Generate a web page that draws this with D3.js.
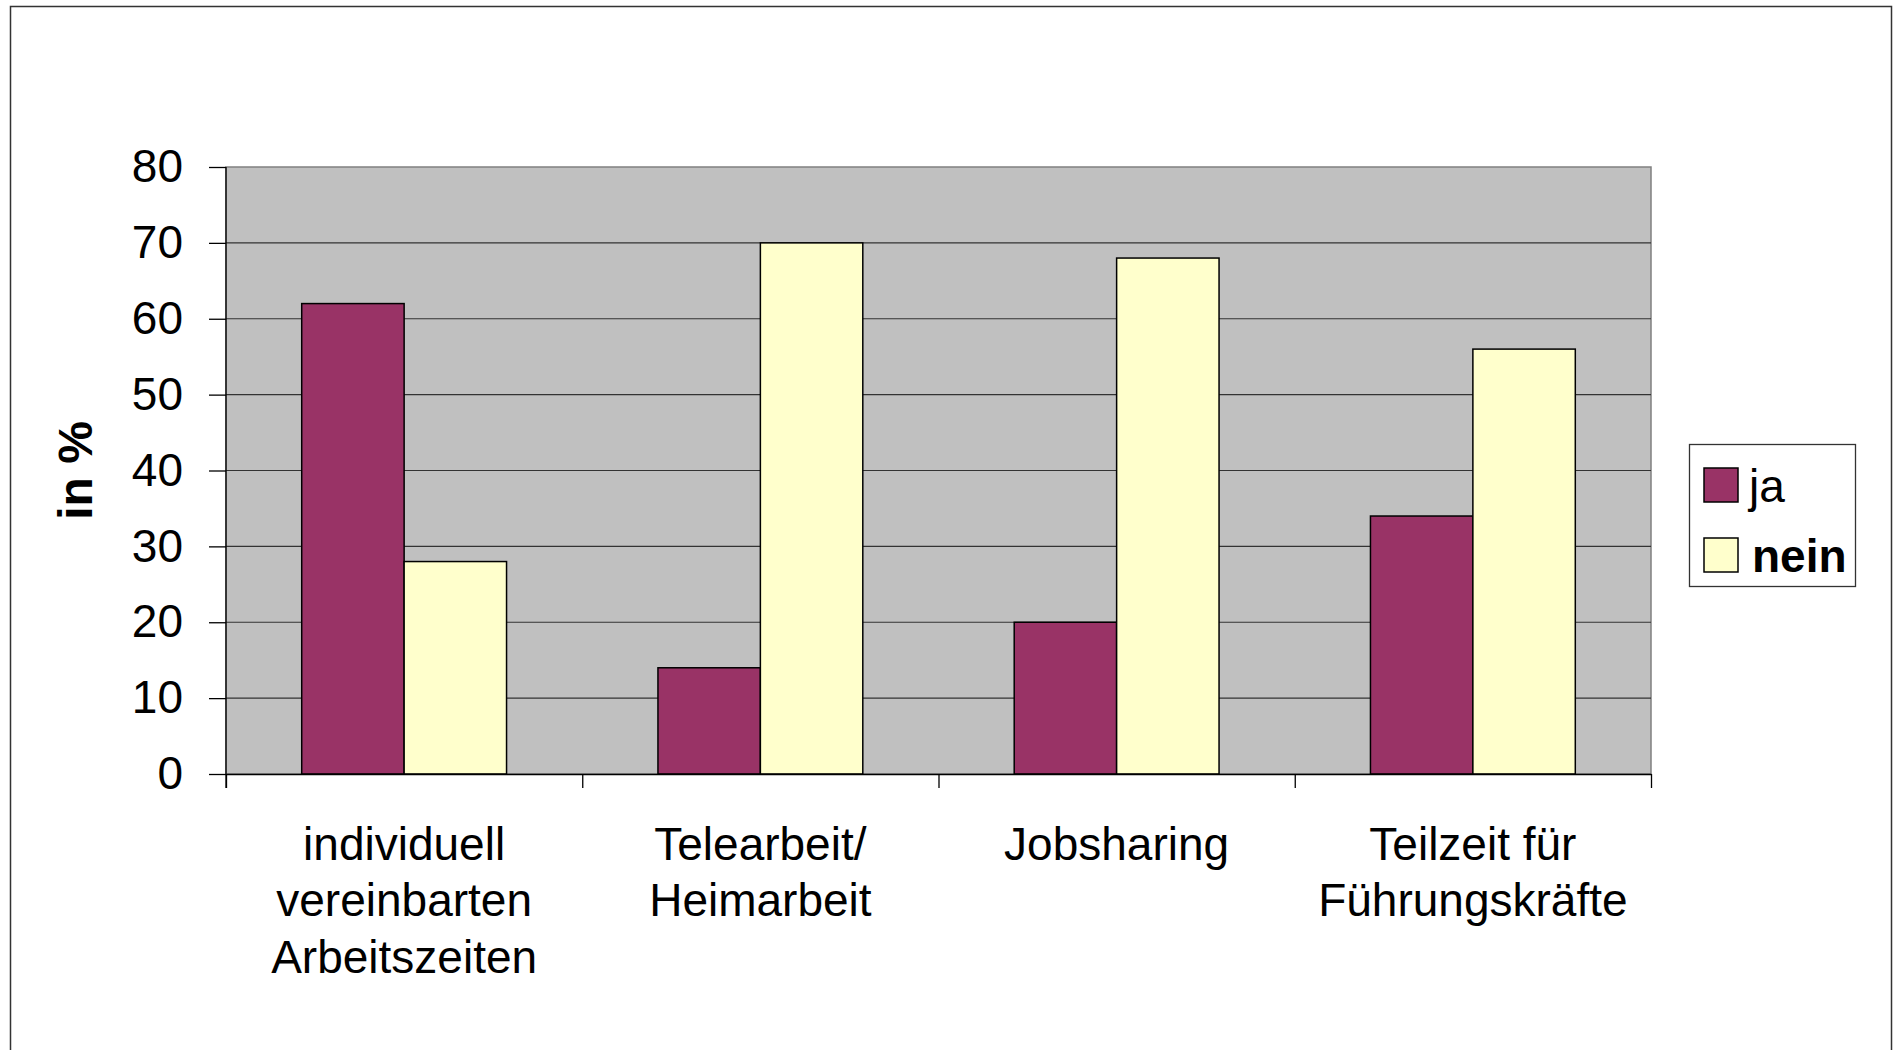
<!DOCTYPE html>
<html>
<head>
<meta charset="utf-8">
<script src="https://cdn.jsdelivr.net/npm/d3@7"></script>
<style>
  html, body { margin: 0; padding: 0; background: #fff; }
  svg text { font-family: "Liberation Sans", Arial, sans-serif; }
</style>
</head>
<body>
<div id="chart"></div>
<script>
// data
const categories = ['individuell vereinbarten Arbeitszeiten', 'Telearbeit/ Heimarbeit', 'Jobsharing', 'Teilzeit für Führungskräfte']
const categoryLines = [
  ['individuell', 'vereinbarten', 'Arbeitszeiten'],
  ['Telearbeit/', 'Heimarbeit'],
  ['Jobsharing'],
  ['Teilzeit für', 'Führungskräfte']
]
const seriesNames = ['ja', 'nein']
const jaValues = [62, 14, 20, 34]
const neinValues = [28, 70, 68, 56]
const yTicks = [0, 10, 20, 30, 40, 50, 60, 70, 80]

const colors = { ja: '#993366', nein: '#FFFFCC' }

const width = 1896
const height = 1050
const plot = { left: 226, right: 1651, top: 167, bottom: 774 }

const svg = d3.select('#chart')
  .append('svg')
  .attr('width', width)
  .attr('height', height)

// outer frame
svg.append('rect')
  .attr('x', 10.5)
  .attr('y', 6.5)
  .attr('width', 1881)
  .attr('height', 1100)
  .attr('fill', 'none')
  .attr('stroke', '#333')
  .attr('stroke-width', 1.5)

// scales
const x0 = d3.scaleBand()
  .domain(categories)
  .range([plot.left, plot.right])
  .paddingInner(0.425)
  .paddingOuter(0.2125)

const x1 = d3.scaleBand()
  .domain(seriesNames)
  .range([0, x0.bandwidth()])

const y = d3.scaleLinear()
  .domain([0, 80])
  .range([plot.bottom, plot.top])

// plot background
svg.append('rect')
  .attr('x', plot.left)
  .attr('y', plot.top)
  .attr('width', plot.right - plot.left)
  .attr('height', plot.bottom - plot.top)
  .attr('fill', '#C0C0C0')
  .attr('stroke', '#808080')
  .attr('stroke-width', 1.5)

// gridlines
svg.append('g')
  .selectAll('line')
  .data(yTicks.filter(d => d > 0 && d < 80))
  .enter()
  .append('line')
  .attr('x1', plot.left)
  .attr('x2', plot.right)
  .attr('y1', d => y(d))
  .attr('y2', d => y(d))
  .attr('stroke', '#333')
  .attr('stroke-width', 1.2)

// bars
const rows = categories.map((c, i) => ({ cat: c, values: [
  { key: 'ja', value: jaValues[i] },
  { key: 'nein', value: neinValues[i] }
] }))

svg.append('g')
  .selectAll('g')
  .data(rows)
  .enter()
  .append('g')
  .attr('transform', d => 'translate(' + x0(d.cat) + ',0)')
  .selectAll('rect')
  .data(d => d.values)
  .enter()
  .append('rect')
  .attr('x', d => x1(d.key))
  .attr('y', d => y(d.value))
  .attr('width', x1.bandwidth())
  .attr('height', d => y(0) - y(d.value))
  .attr('fill', d => colors[d.key])
  .attr('stroke', '#000')
  .attr('stroke-width', 1.5)

// y axis
const yAxis = d3.axisLeft(y)
  .tickValues(yTicks)
  .tickSize(17)
  .tickPadding(26)
svg.append('g')
  .attr('class', 'axis y-axis')
  .attr('transform', 'translate(' + plot.left + ',0)')
  .call(yAxis)
  .call(g => g.select('.domain').attr('d', 'M0,' + plot.top + 'V' + (plot.bottom + 14)))
  .call(g => g.selectAll('text')
    .attr('font-size', 46)
    .attr('fill', '#000'))
  .call(g => g.selectAll('line, path').attr('stroke', '#000').attr('stroke-width', 1.3))

// x axis, ticks at category boundaries
const xBounds = d3.scaleLinear().domain([0, categories.length]).range([plot.left, plot.right])
const xAxis = d3.axisBottom(xBounds)
  .tickValues(d3.range(0, categories.length + 1))
  .tickFormat('')
  .tickSizeInner(14)
  .tickSizeOuter(0)
svg.append('g')
  .attr('class', 'axis x-axis')
  .attr('transform', 'translate(0,' + plot.bottom + ')')
  .call(xAxis)
  .call(g => g.selectAll('line, path').attr('stroke', '#000').attr('stroke-width', 1.3))

// category labels
svg.append('g')
  .selectAll('text')
  .data(categories)
  .enter()
  .append('text')
  .attr('text-anchor', 'middle')
  .attr('font-size', 46)
  .attr('fill', '#000')
  .each(function(d, i) {
    const cx = x0(d) + x0.bandwidth() / 2
    d3.select(this)
      .selectAll('tspan')
      .data(categoryLines[i])
      .enter()
      .append('tspan')
      .attr('x', cx)
      .attr('y', (t, j) => 859.5 + j * 56.7)
      .text(t => t)
  })

// y title
svg.append('text')
  .attr('transform', 'translate(92,' + ((plot.top + plot.bottom) / 2) + ') rotate(-90)')
  .attr('text-anchor', 'middle')
  .attr('font-size', 48)
  .attr('font-weight', 'bold')
  .attr('fill', '#000')
  .text('in %')

// legend
const legend = svg.append('g')
legend.append('rect')
  .attr('x', 1689.5)
  .attr('y', 444.5)
  .attr('width', 166)
  .attr('height', 142)
  .attr('fill', '#fff')
  .attr('stroke', '#333')
  .attr('stroke-width', 1.3)

const legendItems = legend.selectAll('g.item')
  .data(seriesNames)
  .enter()
  .append('g')
  .attr('class', 'item')
  .attr('transform', (d, i) => 'translate(1704,' + (468 + i * 70) + ')')

legendItems.append('rect')
  .attr('width', 34)
  .attr('height', 34)
  .attr('fill', d => colors[d])
  .attr('stroke', '#000')
  .attr('stroke-width', 1.5)

legendItems.append('text')
  .attr('x', d => d === 'ja' ? 45 : 48)
  .attr('y', 34)
  .attr('font-size', 46)
  .attr('font-weight', d => d === 'nein' ? 'bold' : 'normal')
  .attr('fill', '#000')
  .text(d => d)
</script>
</body>
</html>
